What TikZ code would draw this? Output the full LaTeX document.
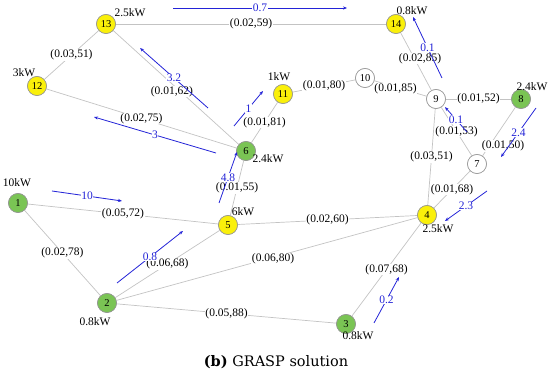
\documentclass[tikz,border=0pt]{standalone}
\usepackage{fontspec}
\setmainfont{Liberation Serif}
\newfontfamily\capfont{DejaVu Serif}
\usetikzlibrary{arrows.meta}
\definecolor{ngreen}{RGB}{122,196,84}
\definecolor{nyellow}{RGB}{250,240,10}
\definecolor{nborder}{RGB}{150,150,150}
\definecolor{edgegray}{RGB}{195,195,195}
\definecolor{flowblue}{RGB}{35,35,215}
\tikzset{
  bus/.style={circle, draw=nborder, line width=0.6pt, minimum size=19pt, inner sep=0pt, font=\fontsize{10.5}{12}\selectfont},
  gen/.style={bus, fill=ngreen},
  load/.style={bus, fill=nyellow},
  plain/.style={bus, fill=white},
  line/.style={draw=edgegray, line width=0.7pt},
  elab/.style={fill=white, inner sep=0.5pt, font=\fontsize{11.5}{13}\selectfont},
  pw/.style={inner sep=0pt, font=\fontsize{11.5}{13}\selectfont},
  flow/.style={draw=flowblue, line width=0.8pt, -{Stealth[length=4pt,width=3.2pt]}},
  flab/.style={fill=white, inner sep=0.5pt, text=flowblue, font=\fontsize{11.5}{13}\selectfont},
}
\begin{document}
\begin{tikzpicture}[x=1pt,y=-1pt]
\useasboundingbox (0,0) rectangle (550,374);
% nodes
\node[gen]   (n1)  at (18,203)  {1};
\node[gen]   (n2)  at (107,303) {2};
\node[gen]   (n3)  at (346,324) {3};
\node[load]  (n4)  at (427,215) {4};
\node[load]  (n5)  at (228,225) {5};
\node[gen]   (n6)  at (246,151) {6};
\node[plain] (n7)  at (477,164) {7};
\node[gen]   (n8)  at (521,99)  {8};
\node[plain] (n9)  at (436,99)  {9};
\node[plain] (n10) at (365,78)  {10};
\node[load]  (n11) at (283,94)  {11};
\node[load]  (n12) at (37,86)   {12};
\node[load]  (n13) at (106,24)  {13};
\node[load]  (n14) at (396,24)  {14};
% edges
\draw[line] (n1) -- node[elab] (l15) {(0.05,72)} (n5);
\draw[line] (n1) -- node[elab] (l12) {(0.02,78)} (n2);
\draw[line] (n2) -- node[elab] (l25) {(0.06,68)} (n5);
\draw[line] (n2) -- node[elab,xshift=6pt] (l24) {(0.06,80)} (n4);
\draw[line] (n2) -- node[elab] (l23) {(0.05,88)} (n3);
\draw[line] (n3) -- node[elab] (l34) {(0.07,68)} (n4);
\draw[line] (n5) -- node[elab] (l54) {(0.02,60)} (n4);
\draw[line] (n5) -- node[elab] (l56) {(0.01,55)} (n6);
\draw[line] (n6) -- node[elab] (l611) {(0.01,81)} (n11);
\draw[line] (n6) -- node[elab,xshift=-4pt,yshift=-4pt] (l613) {(0.01,62)} (n13);
\draw[line] (n6) -- node[elab] (l612) {(0.02,75)} (n12);
\draw[line] (n12) -- node[elab] (l1213) {(0.03,51)} (n13);
\draw[line] (n13) -- node[elab] (l1314) {(0.02,59)} (n14);
\draw[line] (n11) -- node[elab] (l1110) {(0.01,80)} (n10);
\draw[line] (n10) -- node[elab,xshift=-5pt] (l109) {(0.01,85)} (n9);
\draw[line] (n9) -- node[elab,xshift=4pt,yshift=3pt] (l914) {(0.02,85)} (n14);
\draw[line] (n9) -- node[elab] (l98) {(0.01,52)} (n8);
\draw[line] (n9) -- node[elab] (l97) {(0.01,53)} (n7);
\draw[line] (n9) -- node[elab] (l94) {(0.03,51)} (n4);
\draw[line] (n8) -- (n7);
\draw[line] (n7) -- node[elab] (l74) {(0.01,68)} (n4);
\node[elab] (l87) at (503,146) {(0.01,50)};
% redraw nodes on top
\node[gen]   at (n1)  {1};
\node[gen]   at (n2)  {2};
\node[gen]   at (n3)  {3};
\node[load]  at (n4)  {4};
\node[load]  at (n5)  {5};
\node[gen]   at (n6)  {6};
\node[plain] at (n7)  {7};
\node[gen]   at (n8)  {8};
\node[plain] at (n9)  {9};
\node[plain] at (n10) {10};
\node[load]  at (n11) {11};
\node[load]  at (n12) {12};
\node[load]  at (n13) {13};
\node[load]  at (n14) {14};
% power labels
\node[pw] (p13) at (130,13)  {2.5kW};
\node[pw] (p12) at (24,73)   {3kW};
\node[pw] (p11) at (279,77)  {1kW};
\node[pw] (p6)  at (268,159) {2.4kW};
\node[pw] (p14) at (412,11)  {0.8kW};
\node[pw] (p8)  at (532,87)  {2.4kW};
\node[pw] (p1)  at (17,183)  {10kW};
\node[pw] (p5)  at (243,212) {6kW};
\node[pw] (p2)  at (95,322)  {0.8kW};
\node[pw] (p4)  at (438,229) {2.5kW};
\node[pw] (p3)  at (358,336) {0.8kW};
% flow arrows
\coordinate (a07s) at (173,8);   \coordinate (a07e) at (347,8);
\coordinate (a32s) at (208,108); \coordinate (a32e) at (140,48);
\coordinate (a3s)  at (216,153); \coordinate (a3e)  at (94,117);
\coordinate (a1s)  at (234,126); \coordinate (a1e)  at (263,91);
\coordinate (a48s) at (219,203); \coordinate (a48e) at (237,152);
\coordinate (a10s) at (52,191);  \coordinate (a10e) at (122,201);
\coordinate (a08s) at (117,283); \coordinate (a08e) at (183,231);
\coordinate (a02s) at (374,323); \coordinate (a02e) at (399,277);
\coordinate (a23s) at (487,191); \coordinate (a23e) at (445,221);
\coordinate (a24s) at (536,108); \coordinate (a24e) at (501,157);
\coordinate (a01s) at (467,132); \coordinate (a01e) at (445,107);
\coordinate (a01bs) at (442,78); \coordinate (a01be) at (413,17);
\draw[flow] (a07s) -- node[flab] (f07) {0.7} (a07e);
\draw[flow] (a32s) -- node[flab] (f32) {3.2} (a32e);
\draw[flow] (a3s)  -- node[flab] (f3)  {3} (a3e);
\draw[flow] (a1s)  -- node[flab] (f1)  {1} (a1e);
\draw[flow] (a48s) -- node[flab] (f48) {4.8} (a48e);
\draw[flow] (a10s) -- node[flab] (f10) {10} (a10e);
\draw[flow] (a08s) -- node[flab] (f08) {0.8} (a08e);
\draw[flow] (a02s) -- node[flab] (f02) {0.2} (a02e);
\draw[flow] (a23s) -- node[flab] (f23) {2.3} (a23e);
\draw[flow] (a24s) -- node[flab] (f24) {2.4} (a24e);
\draw[flow] (a01s) -- node[flab] (f01) {0.1} (a01e);
\draw[flow] (a01bs) -- node[flab] (f01b) {0.1} (a01be);
% caption
\node[inner sep=0pt, font=\capfont\fontsize{14.5}{16}\selectfont] (cap) at (276,362) {\textbf{(b)} GRASP solution};
\end{tikzpicture}
\end{document}
